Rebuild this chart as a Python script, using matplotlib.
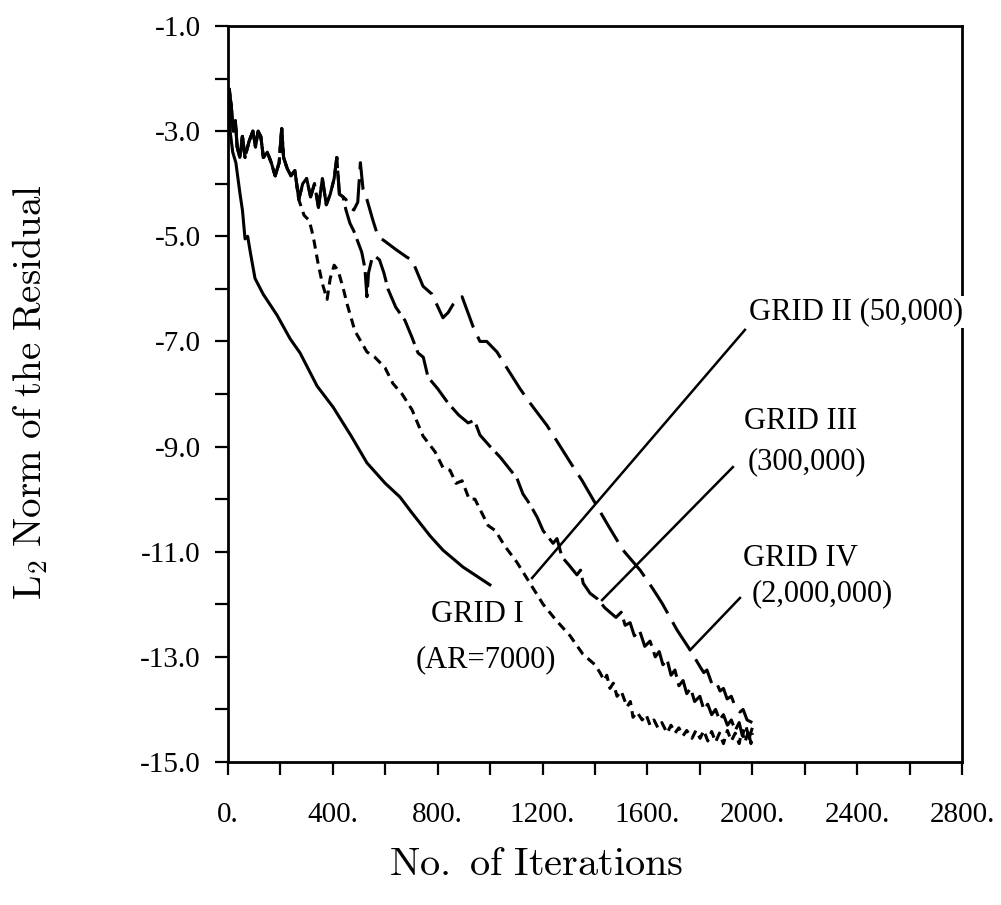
import matplotlib
matplotlib.use("Agg")
import matplotlib.pyplot as plt

plt.rcParams['mathtext.fontset'] = 'cm'
SERIF = ['Liberation Serif', 'DejaVu Serif']

# ---- data (iterations, log residual) ----
# noisy start shared by grids II, III and IV
early_it = [0, 5, 12, 20, 28, 35, 45, 55, 65, 80, 95, 105, 115, 125, 135,
            150, 165, 180, 195, 205, 212, 225, 240, 255, 270]
early_res = [-2.8, -2.2, -2.5, -3.0, -2.8, -3.3, -3.5, -3.1, -3.5, -3.2, -3.0,
             -3.3, -3.0, -3.1, -3.5, -3.4, -3.6, -3.85, -3.6, -2.95, -3.5,
             -3.7, -3.85, -3.75, -4.3]
# continuation shared by grids III and IV
mid_it = [285, 300, 315, 330, 345, 360, 375, 390, 405, 415, 425, 439]
mid_res = [-4.0, -3.9, -4.25, -4.0, -4.45, -3.9, -4.4, -4.2, -3.9, -3.5,
           -4.2, -4.25]

g1_it = [0, 8, 18, 30, 46, 55, 65, 75, 85, 103, 134, 187, 237, 275, 340,
         401, 470, 530, 600, 656, 700, 771, 820, 896, 999]
g1_res = [-2.2, -3.0, -3.4, -3.6, -4.2, -4.5, -5.05, -5.0, -5.3, -5.8, -6.1,
          -6.5, -6.95, -7.22, -7.85, -8.25, -8.8, -9.31, -9.7, -9.96, -10.25,
          -10.7, -10.97, -11.29, -11.63]

g2_it = [290, 310, 325, 343, 360, 378, 390, 405, 420, 440, 455, 484, 530,
         560, 599, 629, 664, 702, 744, 790, 820, 847, 870, 893, 920, 942,
         992, 1020, 1057, 1102, 1152, 1202, 1251, 1305, 1354, 1400, 1419,
         1435, 1445, 1457, 1470, 1484, 1500, 1522, 1535, 1545, 1560, 1580,
         1595, 1610, 1625, 1640, 1655, 1675, 1690, 1705, 1720, 1736, 1750,
         1770, 1785, 1801, 1815, 1830, 1845, 1860, 1875, 1890, 1905, 1920,
         1935, 1950, 1960, 1972, 1985, 1995, 2000]
g2_res = [-4.6, -4.7, -5.0, -5.5, -5.9, -6.2, -5.8, -5.55, -5.65, -6.0, -6.3,
          -6.8, -7.2, -7.3, -7.5, -7.8, -8.0, -8.3, -8.8, -9.1, -9.4, -9.45,
          -9.7, -9.65, -10.0, -10.0, -10.5, -10.6, -10.9, -11.2, -11.6,
          -12.0, -12.3, -12.6, -12.95, -13.15, -13.3, -13.45, -13.35, -13.6,
          -13.5, -13.75, -13.65, -13.95, -13.85, -14.15, -14.05, -14.2,
          -14.1, -14.3, -14.2, -14.35, -14.25, -14.45, -14.3, -14.45, -14.35,
          -14.5, -14.4, -14.55, -14.4, -14.55, -14.4, -14.6, -14.42, -14.62,
          -14.45, -14.65, -14.4, -14.6, -14.45, -14.65, -14.4, -14.62, -14.42,
          -14.65, -14.45]

g3_it = [450, 465, 480, 495, 510, 522, 530, 536, 548, 562, 578, 595, 610,
         640, 675, 700, 725, 745, 763, 800, 839, 880, 916, 940, 961, 1000,
         1038, 1070, 1102, 1125, 1152, 1180, 1202, 1240, 1255, 1274, 1300,
         1331, 1345, 1355, 1381, 1410, 1438, 1480, 1500, 1515, 1534, 1550,
         1570, 1590, 1610, 1630, 1645, 1659, 1675, 1690, 1705, 1720, 1736,
         1750, 1765, 1780, 1800, 1815, 1830, 1845, 1860, 1875, 1890, 1905,
         1920, 1935, 1950, 1962, 1975, 1988, 2000]
g3_res = [-4.5, -4.75, -4.9, -5.1, -5.3, -5.6, -6.15, -5.7, -5.45, -5.38,
          -5.45, -5.7, -6.0, -6.35, -6.6, -6.9, -7.22, -7.3, -7.68, -7.9,
          -8.17, -8.4, -8.55, -8.5, -8.78, -9.0, -9.2, -9.4, -9.6, -9.9,
          -10.1, -10.35, -10.6, -10.84, -10.75, -11.1, -11.25, -11.44, -11.35,
          -11.6, -11.79, -11.9, -12.07, -12.25, -12.15, -12.4, -12.35, -12.6,
          -12.5, -12.8, -12.7, -13.0, -12.9, -13.15, -13.05, -13.35, -13.25,
          -13.55, -13.45, -13.7, -13.6, -13.85, -13.75, -14.0, -13.9, -14.1,
          -14.0, -14.2, -14.1, -14.3, -14.2, -14.4, -14.25, -14.5, -14.3,
          -14.55, -14.35]

g4_it = [450, 465, 480, 495, 505, 515, 530, 553, 572, 600, 640, 683, 702,
         744, 778, 820, 840, 858, 893, 935, 961, 987, 1026, 1057, 1114, 1152,
         1217, 1259, 1312, 1350, 1400, 1450, 1507, 1572, 1620, 1656, 1713,
         1763, 1801, 1815, 1827, 1845, 1860, 1877, 1890, 1904, 1920, 1935,
         1953, 1965, 1980, 2000]
g4_res = [-4.3, -4.45, -4.5, -4.35, -3.6, -4.1, -4.3, -4.7, -5.0, -5.1,
          -5.25, -5.4, -5.45, -5.95, -6.1, -6.55, -6.45, -6.3, -6.15, -6.72,
          -7.0, -7.0, -7.2, -7.45, -7.9, -8.17, -8.6, -8.93, -9.35, -9.64,
          -10.07, -10.5, -10.97, -11.35, -11.7, -11.98, -12.49, -12.87,
          -13.19, -13.3, -13.25, -13.5, -13.45, -13.65, -13.6, -13.8, -13.75,
          -13.95, -14.05, -14.0, -14.2, -14.25]

# leader lines: (x0, x1), (y0, y1)
lead2 = ([1972, 1160], [-6.78, -11.5])
lead3 = ([1926, 1427], [-9.39, -11.92])
lead4 = ([1953, 1763], [-11.88, -12.87])

x_ticks = [0, 400, 800, 1200, 1600, 2000, 2400, 2800]
x_labels = ['0.', '400.', '800.', '1200.', '1600.', '2000.', '2400.', '2800.']
y_ticks = [-1, -3, -5, -7, -9, -11, -13, -15]
y_labels = ['-1.0', '-3.0', '-5.0', '-7.0', '-9.0', '-11.0', '-13.0', '-15.0']

fig = plt.figure(figsize=(10.01, 9.05), dpi=100)
ax = fig.add_axes([228 / 1001, 1 - 762 / 905, 734 / 1001, 736 / 905])

kw = dict(color='black', lw=2.2, solid_joinstyle='round', dash_joinstyle='round')
ax.plot(g1_it, g1_res, **kw)
ax.plot(early_it + g2_it, early_res + g2_res, dashes=(3, 2.0), **kw)
ax.plot(early_it + mid_it + g3_it, early_res + mid_res + g3_res,
        dashes=(9, 2.2), **kw)
ax.plot(early_it + mid_it + g4_it, early_res + mid_res + g4_res,
        dashes=(11, 3.3), **kw)

for lx, ly in (lead2, lead3, lead4):
    ax.plot(lx, ly, color='black', lw=1.8)

tkw = dict(fontsize=22, family=SERIF, ha='center', va='center')
ax.text(2396, -6.44, 'GRID II (50,000)', zorder=6, clip_on=False,
        bbox=dict(facecolor='white', edgecolor='none', pad=1), **tkw)
ax.text(2186, -8.53, 'GRID III', **tkw)
ax.text(2209, -9.29, '(300,000)', **tkw)
ax.text(2182, -11.12, 'GRID IV', **tkw)
ax.text(2266, -11.79, '(2,000,000)', **tkw)
ax.text(950, -12.2, 'GRID I', **tkw)
ax.text(984, -13.06, '(AR=7000)', **tkw)

ax.set_xlim(0, 2800)
ax.set_ylim(-15, -1)
ax.set_xticks(x_ticks)
ax.set_xticklabels(x_labels)
ax.set_xticks(range(200, 2800, 400), minor=True)
ax.set_yticks(y_ticks)
ax.set_yticklabels(y_labels)
ax.set_yticks(range(-14, -1, 2), minor=True)
for lab in ax.get_xticklabels() + ax.get_yticklabels():
    lab.set_family(SERIF)
    lab.set_fontsize(21)
ax.tick_params(which='both', direction='out', length=9.5, width=1.6)
ax.tick_params(axis='x', which='major', pad=19)
ax.tick_params(axis='y', which='major', pad=10)
for sp in ax.spines.values():
    sp.set_linewidth(2.0)

ax.set_xlabel(r'$\mathrm{No.\ of\ Iterations}$', fontsize=29)
ax.set_ylabel(r'$\mathrm{L_2\ Norm\ of\ the\ Residual}$', fontsize=28)
ax.xaxis.set_label_coords(0.42, -0.112)
ax.yaxis.set_label_coords(-0.243, 0.503)

fig.savefig('out.png', dpi=100)
